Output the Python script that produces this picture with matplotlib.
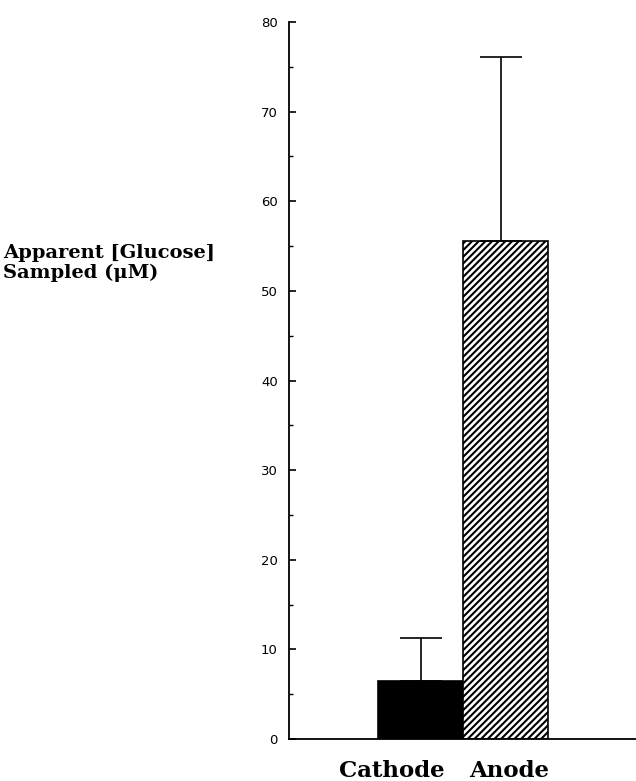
import numpy as np
import matplotlib
matplotlib.use("Agg")
import matplotlib.pyplot as plt

# data
groups = ["Cathode", "Anode"]
means = [6.5, 55.6]
errors = [4.8, 20.5]
y_ticks = [0, 10, 20, 30, 40, 50, 60, 70, 80]

plt.rcParams['hatch.linewidth'] = 1.5

fig = plt.figure(figsize=(6.36, 7.81), dpi=100)
# axis from x=289px to the right edge, y=0 at 739px, y=80 at 22px
ax = fig.add_axes([289 / 636, (781 - 739) / 781, 1 - 289 / 636, (739 - 22) / 781])

x = np.array([0.379, 0.624])
width = 0.245
bars = ax.bar(x, means, width=width, color=['black', 'white'],
              edgecolor='black', linewidth=1.2)
bars[1].set_hatch('/////')

ax.errorbar(x - [0.0, 0.012], means, yerr=[[0, 0], errors], fmt='none',
            ecolor='black', elinewidth=1.2, capsize=15, capthick=1.2)

ax.set_xlim(0, 1)
ax.set_ylim(0, 80)
ax.set_yticks(y_ticks)
ax.set_yticks(np.arange(5, 80, 10), minor=True)
ax.tick_params(axis='y', direction='in', length=5, width=1.2, labelsize=9.5, pad=8)
ax.tick_params(axis='y', which='minor', direction='in', length=3, width=1)
ax.set_xticks([])
for s in ['top', 'right']:
    ax.spines[s].set_visible(False)
ax.spines['left'].set_linewidth(1.3)
ax.spines['bottom'].set_linewidth(1.3)

grp_font = dict(family='DejaVu Serif', fontweight='bold', fontsize=16.5)
ax.text(0.296, -0.045, groups[0], transform=ax.transAxes, ha='center', va='center', **grp_font)
ax.text(0.634, -0.045, groups[1], transform=ax.transAxes, ha='center', va='center', **grp_font)

fig.text(3 / 636, 1 - 263 / 781, "Apparent [Glucose]\nSampled (\u03bcM)", ha='left', va='center',
         linespacing=1.18, family='DejaVu Serif', fontweight='bold', fontsize=14)

fig.savefig("out.png", dpi=100)
